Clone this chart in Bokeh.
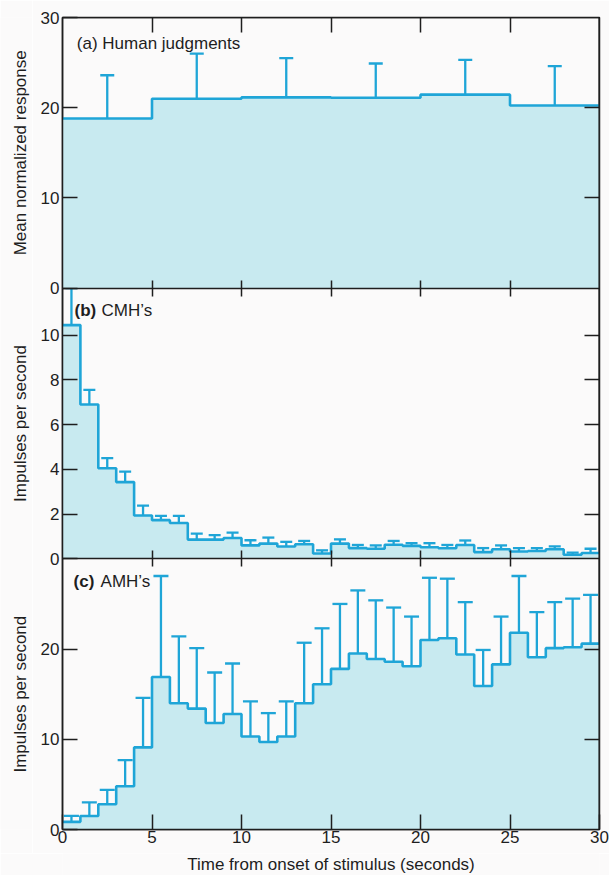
import math

from bokeh.plotting import figure
from bokeh.layouts import row, column
from bokeh.models import (Range1d, LinearAxis, FixedTicker, Whisker, TeeHead,
                          ColumnDataSource, CustomJSTickFormatter)
from bokeh.core.properties import value
from bokeh.embed import file_html
from bokeh.resources import INLINE

# ---- data -------------------------------------------------------------
# (a) mean normalized magnitude ratings, 5-second bins
rating_edges = [0, 5, 10, 15, 20, 25, 30]
human_mean = [18.8, 21.0, 21.15, 21.1, 21.45, 20.25]
human_upper = [23.6, 26.0, 25.5, 24.9, 25.3, 24.6]

# (b), (c) nerve-fibre discharge, 1-second bins
bin_edges = list(range(0, 31))
cmh_mean = [10.45, 6.9, 4.05, 3.43, 1.94, 1.73, 1.6, 0.86, 0.86, 0.93,
            0.6, 0.68, 0.55, 0.65, 0.24, 0.68, 0.48, 0.45, 0.63, 0.58,
            0.52, 0.47, 0.62, 0.3, 0.43, 0.33, 0.35, 0.43, 0.18, 0.26]
cmh_upper = [12.1, 7.55, 4.5, 3.9, 2.38, 1.92, 1.92, 1.13, 1.06, 1.17,
             0.83, 0.95, 0.76, 0.8, 0.38, 0.87, 0.62, 0.6, 0.8, 0.7,
             0.7, 0.62, 0.82, 0.48, 0.6, 0.48, 0.48, 0.56, 0.28, 0.45]
amh_mean = [0.85, 1.5, 2.8, 4.8, 9.1, 16.9, 14.0, 13.4, 11.8, 12.8,
            10.3, 9.7, 10.3, 14.0, 16.1, 17.8, 19.5, 18.9, 18.6, 18.1,
            21.0, 21.2, 19.4, 15.9, 18.3, 21.8, 19.1, 20.1, 20.2, 20.6]
amh_upper = [1.5, 3.0, 4.4, 7.7, 14.6, 28.1, 21.4, 20.1, 17.4, 18.4,
             14.2, 12.9, 14.2, 20.7, 22.3, 25.0, 26.5, 25.4, 24.6, 23.6,
             27.9, 27.8, 25.2, 19.9, 23.6, 28.1, 24.1, 25.2, 25.6, 26.0]

time_ticks = [0, 5, 10, 15, 20, 25, 30]
inner_time_ticks = [5, 10, 15, 20, 25]
a_ticks = [0, 10, 20, 30]
b_ticks = [0, 2, 4, 6, 8, 10]
c_ticks = [0, 10, 20]
a_top, b_top, c_top = 30, 12.1, 30

y_titles = ["Mean normalized response", "Impulses per second", "Impulses per second"]
x_title = "Time from onset of stimulus (seconds)"

# ---- style -------------------------------------------------------------
INK = "#1fa5d7"
FILL = "#c8eaf0"
PAPER = "#fbfafa"
TEXT = "#1e1e1e"
FONT = "Liberation Sans"
SIZE = "17px"

SLOT = 30          # height of one panel in the shared (stacked) y units
TITLE_W = 32       # strip that holds the rotated y titles
MAIN_H = 853       # chart height above the x title strip
TOP, BOTTOM = 17, 24

x_range = Range1d(0, 30)
y_range = Range1d(0, 3 * SLOT)


def panel_range(top, slot):
    """Range that puts 0..top of a panel into slot `slot` (0 = bottom) of the frame."""
    return Range1d(-slot * top, (3 - slot) * top)


panel_ranges = {"a": panel_range(a_top, 2),
                "b": panel_range(b_top, 1),
                "c": panel_range(c_top, 0)}

common = dict(output_backend="svg", toolbar_location=None,
              x_axis_location=None, y_axis_location=None,
              background_fill_color=PAPER, border_fill_color=PAPER)

p = figure(width=609 - TITLE_W, height=MAIN_H, x_range=x_range, y_range=y_range,
           min_border_left=62 - TITLE_W, min_border_right=10,
           min_border_top=TOP, min_border_bottom=BOTTOM,
           outline_line_color=TEXT, outline_line_width=1.5, **common)
p.xgrid.visible = False
p.ygrid.visible = False
p.extra_y_ranges = panel_ranges


def draw_panel(edges, mean, upper, rng, cap):
    y = list(mean) + [mean[-1]]
    p.varea_step(x=edges, y1=0, y2=y, step_mode="after", fill_color=FILL,
                 y_range_name=rng)
    p.step(x=edges, y=y, mode="after", line_color=INK, line_width=2.6,
           y_range_name=rng)
    centers = [(a + b) / 2 for a, b in zip(edges[:-1], edges[1:])]
    src = ColumnDataSource(dict(x=centers, lower=mean, upper=upper))
    p.add_layout(Whisker(source=src, base="x", lower="lower", upper="upper",
                         dimension="height", line_color=INK, line_width=2.3,
                         upper_head=TeeHead(size=cap, line_color=INK, line_width=2.3),
                         lower_head=None, y_range_name=rng))


draw_panel(rating_edges, human_mean, human_upper, "a", 14)
draw_panel(bin_edges, cmh_mean, cmh_upper, "b", 12)
draw_panel(bin_edges, amh_mean, amh_upper, "c", 15)

blank = CustomJSTickFormatter(code="return ''")
line_kw = dict(minor_tick_in=0, minor_tick_out=0,
               axis_line_color=TEXT, axis_line_width=1.5,
               major_tick_line_color=TEXT, major_tick_line_width=1.5,
               major_label_text_font=FONT, major_label_text_font_size=SIZE,
               major_label_text_color=TEXT)


def tick_axis(side, ticks, rng, loc, tick_in, tick_out=0):
    ax = LinearAxis(ticker=FixedTicker(ticks=ticks, minor_ticks=[]),
                    y_range_name=rng, fixed_location=loc,
                    major_tick_in=tick_in, major_tick_out=tick_out,
                    formatter=blank, **line_kw)
    p.add_layout(ax, side)


# shared left axis: every panel's ticks placed into its own slot
slots = [(c_ticks, c_top, 0), (b_ticks, b_top, 1), (a_ticks, a_top, 2)]
left_ticks = [slot * SLOT + v * SLOT / top for ticks, top, slot in slots for v in ticks]
left_fmt = CustomJSTickFormatter(args=dict(tops=[c_top, b_top, a_top], slot_h=SLOT), code="""
    const slot = Math.min(Math.floor(tick / slot_h + 1e-6), 2);
    return String(Math.round((tick - slot * slot_h) * tops[slot] / slot_h));
""")
ya = LinearAxis(ticker=FixedTicker(ticks=left_ticks, minor_ticks=[]), formatter=left_fmt,
                major_tick_in=15, major_tick_out=0, major_label_standoff=3, **line_kw)
p.add_layout(ya, "left")

# right-hand inward ticks
tick_axis("right", [10, 20], "a", 30, 15)
tick_axis("right", [2, 4, 6, 8, 10], "b", 30, 15)
tick_axis("right", [10, 20], "c", 30, 15)
# top edge and the two panel boundaries
tick_axis("above", inner_time_ticks, "a", a_top, 15)
tick_axis("below", inner_time_ticks, "a", 0, 8, tick_out=8)
tick_axis("below", inner_time_ticks, "b", 0, 8, tick_out=8)

# time axis along the bottom
xa = LinearAxis(ticker=FixedTicker(ticks=time_ticks, minor_ticks=[]),
                major_tick_in=15, major_tick_out=0, major_label_standoff=1, **line_kw)
p.add_layout(xa, "below")

# panel captions
cap_kw = dict(text_font=value(FONT), text_font_size="17px", text_color=TEXT,
              text_baseline="middle", text_align="left")
p.text(x=[0.8], y=[27.1], text=["(a) Human judgments"], y_range_name="a", **cap_kw)
p.text(x=[0.67], y=[11.08], text=["(b)"], y_range_name="b",
       text_font_style="bold", **cap_kw)
p.text(x=[0.67], y=[11.08], text=["CMH\u2019s"], y_range_name="b", x_offset=27, **cap_kw)
p.text(x=[0.62], y=[27.5], text=["(c)"], y_range_name="c",
       text_font_style="bold", **cap_kw)
p.text(x=[0.62], y=[27.5], text=["AMH\u2019s"], y_range_name="c", x_offset=27, **cap_kw)

# strip with the rotated y titles, sharing the panel ranges
ty = figure(width=TITLE_W, height=MAIN_H, x_range=Range1d(0, TITLE_W), y_range=y_range,
            min_border_left=0, min_border_right=0,
            min_border_top=TOP, min_border_bottom=BOTTOM,
            outline_line_color=None, **common)
ty.xgrid.visible = False
ty.ygrid.visible = False
ty.extra_y_ranges = panel_ranges
title_kw = dict(text_font=value(FONT), text_font_size=SIZE, text_color=TEXT,
                text_align="center", text_baseline="middle", angle=math.pi / 2)
for txt, rng, top in zip(y_titles, ["a", "b", "c"], [a_top, b_top, c_top]):
    ty.text(x=[20], y=[top / 2], text=[txt], y_range_name=rng, **title_kw)

# strip with the x title
tx = figure(width=609, height=875 - MAIN_H, x_range=x_range, y_range=Range1d(0, 1),
            min_border_left=62, min_border_right=10, min_border_top=0, min_border_bottom=0,
            outline_line_color=None, **common)
tx.xgrid.visible = False
tx.ygrid.visible = False
tx.text(x=[15], y=[0.5], text=[x_title], text_font=value(FONT), text_font_size=SIZE,
        text_color=TEXT, text_align="center", text_baseline="middle")

layout = column(row(ty, p, spacing=0), tx, spacing=0)
open("out.html", "w").write(file_html(layout, INLINE))
